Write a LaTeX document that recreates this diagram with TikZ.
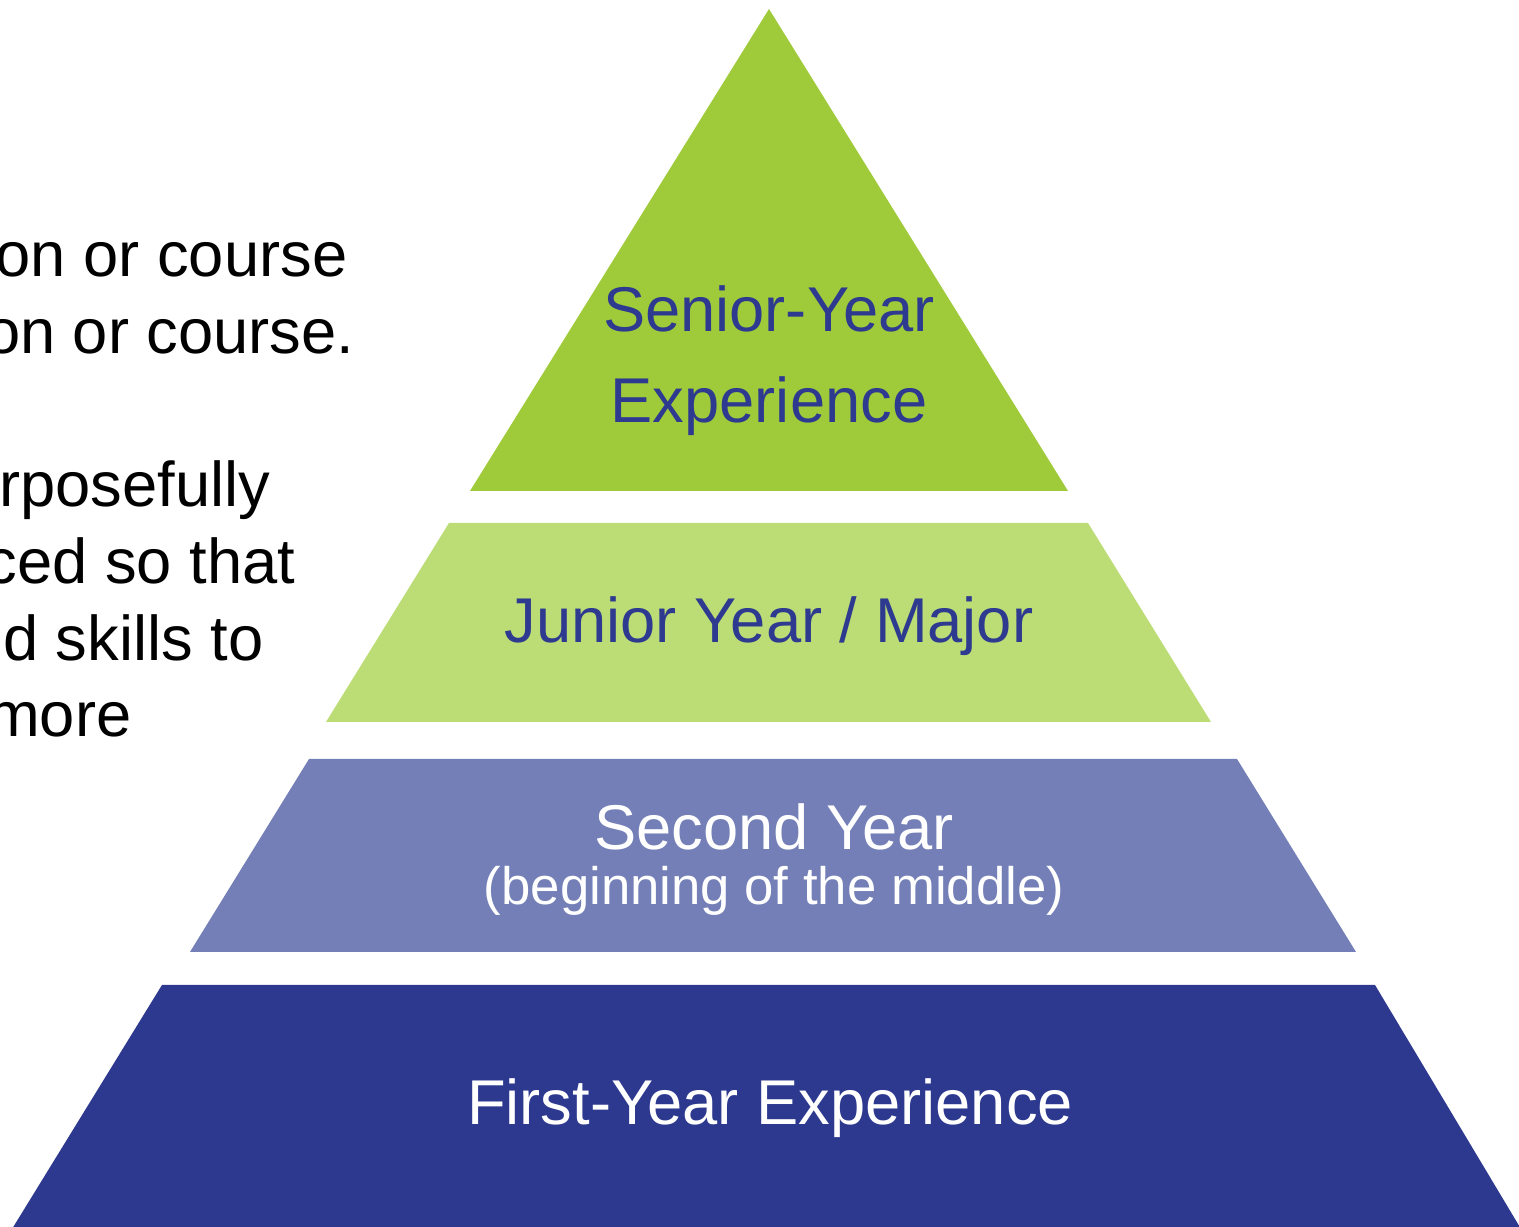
\documentclass[tikz,border=0pt]{standalone}
\usepackage{fontspec}
\setmainfont{Liberation Sans}
\definecolor{seniorgreen}{HTML}{9FCB3B}
\definecolor{juniorgreen}{HTML}{BCDC76}
\definecolor{secondblue}{HTML}{737FB6}
\definecolor{firstblue}{HTML}{2C398F}
\definecolor{labelblue}{HTML}{2E3A8F}
\begin{document}
\begin{tikzpicture}
  [x=0.1mm,y=-0.1mm,
   tier/.style={font=\fontsize{18}{21}\selectfont,anchor=base,inner sep=0pt},
   small tier/.style={font=\fontsize{15}{18}\selectfont,anchor=base,inner sep=0pt},
   side/.style={font=\fontsize{18}{21}\selectfont,anchor=base east,inner sep=0pt}]
  \useasboundingbox (0,0) rectangle (1519,1227);
  \clip (0,0) rectangle (1519,1227);

  % pyramid tiers
  \fill[seniorgreen] (769,9) -- (1068,491) -- (470,491) -- cycle;
  \fill[juniorgreen] (449,523) -- (1088,523) -- (1211,722) -- (326,722) -- cycle;
  \fill[secondblue] (309,759) -- (1237,759) -- (1356,952) -- (190,952) -- cycle;
  \fill[firstblue] (162,985) -- (1375,985) -- (1521,1229) -- (12,1229) -- cycle;

  % tier labels
  \node[tier,text=labelblue] (senior1) at (769,332) {Senior-Year};
  \node[tier,text=labelblue] (senior2) at (769,423) {Experience};
  \node[tier,text=labelblue] (junior) at (769,643) {Junior Year / Major};
  \node[tier,text=white] (second1) at (774,850) {Second Year};
  \node[small tier,text=white] (second2) at (774,905) {(beginning of the middle)};
  \node[tier,text=white] (first) at (770,1125) {First-Year Experience};

  % cut-off text on the left
  \node[side] (line1) at (348,277) {on or course};
  \node[side] (line2) at (355,354) {on or course.};
  \node[side] (line3) at (271,507) {rposefully};
  \node[side] (line4) at (296,584) {ced so that};
  \node[side] (line5) at (264,661) {d skills to};
  \node[side] (line6) at (132,737) {more};
\end{tikzpicture}
\end{document}
